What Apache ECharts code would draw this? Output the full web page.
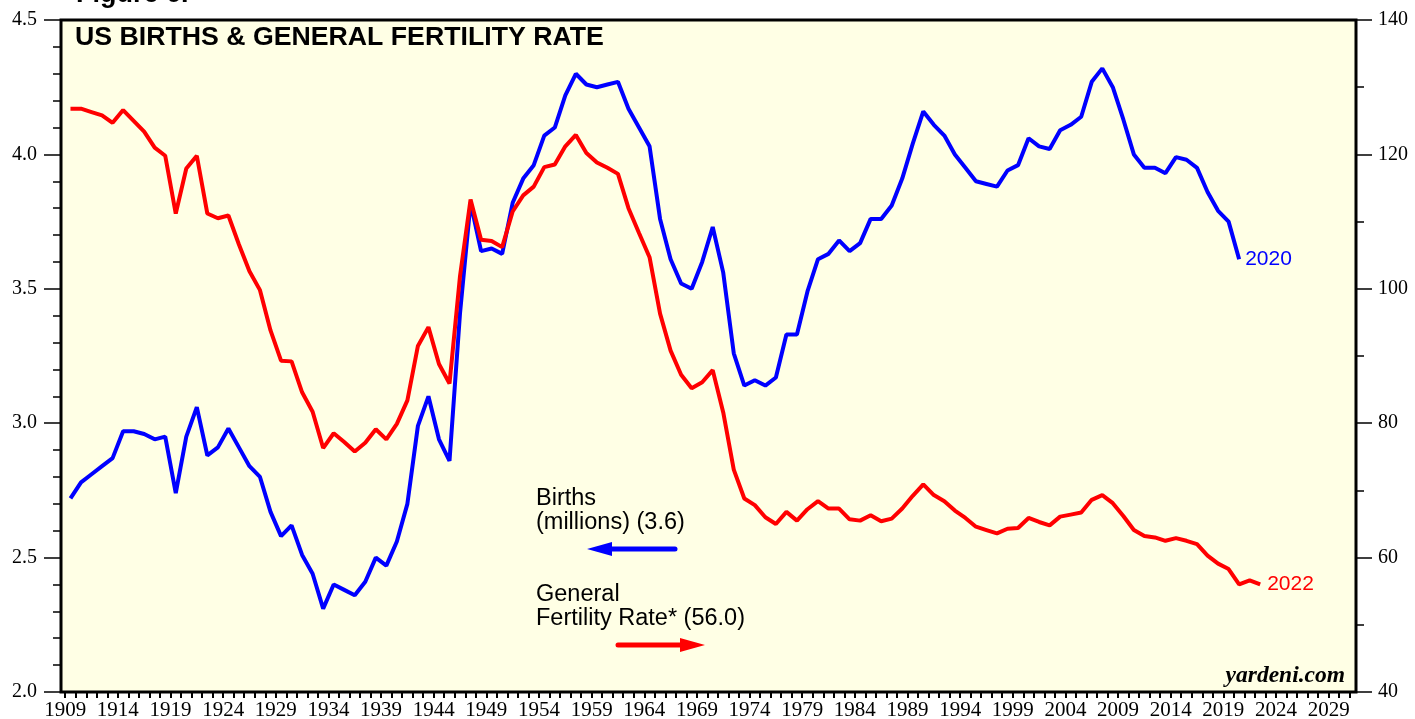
<!DOCTYPE html>
<html>
<head>
<meta charset="utf-8">
<script src="https://cdn.jsdelivr.net/npm/echarts@6/dist/echarts.min.js"></script>
<style>
  html, body { margin: 0; padding: 0; background: #fff; }
  #chart { width: 1415px; height: 719px; }
</style>
</head>
<body>
<div id="chart"></div>
<script>
// US births (millions), 1909-2020
const birthYears = []
for (let y = 1909; y <= 2020; y++) birthYears.push(y)
const births = [
  2.72, 2.78, 2.81, 2.84, 2.87, 2.97, 2.97, 2.96, 2.94, 2.95,
  2.74, 2.95, 3.06, 2.88, 2.91, 2.98, 2.91, 2.84, 2.80, 2.67,
  2.58, 2.62, 2.51, 2.44, 2.31, 2.40, 2.38, 2.36, 2.41, 2.50,
  2.47, 2.56, 2.70, 2.99, 3.10, 2.94, 2.86, 3.41, 3.82, 3.64,
  3.65, 3.63, 3.82, 3.91, 3.96, 4.07, 4.10, 4.22, 4.30, 4.26,
  4.25, 4.26, 4.27, 4.17, 4.10, 4.03, 3.76, 3.61, 3.52, 3.50,
  3.60, 3.73, 3.56, 3.26, 3.14, 3.16, 3.14, 3.17, 3.33, 3.33,
  3.49, 3.61, 3.63, 3.68, 3.64, 3.67, 3.76, 3.76, 3.81, 3.91,
  4.04, 4.16, 4.11, 4.07, 4.00, 3.95, 3.90, 3.89, 3.88, 3.94,
  3.96, 4.06, 4.03, 4.02, 4.09, 4.11, 4.14, 4.27, 4.32, 4.25,
  4.13, 4.00, 3.95, 3.95, 3.93, 3.99, 3.98, 3.95, 3.86, 3.79,
  3.75, 3.61
]

// general fertility rate (births per 1000 women 15-44), 1909-2022
const gfrYears = []
for (let y = 1909; y <= 2022; y++) gfrYears.push(y)
const gfr = [
  126.8, 126.8, 126.3, 125.8, 124.7, 126.6, 125.0, 123.4, 121.0, 119.8,
  111.2, 117.9, 119.8, 111.2, 110.5, 110.9, 106.6, 102.6, 99.8, 93.8,
  89.3, 89.2, 84.6, 81.7, 76.3, 78.5, 77.2, 75.8, 77.1, 79.1,
  77.6, 79.9, 83.4, 91.5, 94.3, 88.8, 85.9, 101.9, 113.3, 107.3,
  107.1, 106.2, 111.5, 113.9, 115.2, 118.1, 118.5, 121.2, 122.9, 120.2,
  118.8, 118.0, 117.1, 112.0, 108.3, 104.7, 96.3, 90.8, 87.2, 85.2,
  86.1, 87.9, 81.6, 73.1, 68.8, 67.8, 66.0, 65.0, 66.8, 65.5,
  67.2, 68.4, 67.3, 67.3, 65.7, 65.5, 66.3, 65.4, 65.8, 67.3,
  69.2, 70.9, 69.3, 68.4, 67.0, 65.9, 64.6, 64.1, 63.6, 64.3,
  64.4, 65.9, 65.3, 64.8, 66.1, 66.4, 66.7, 68.6, 69.3, 68.1,
  66.2, 64.1, 63.2, 63.0, 62.5, 62.9, 62.5, 62.0, 60.3, 59.1,
  58.3, 56.0, 56.6, 56.0
]

// x axis tick labels every 5 years, ticks every year
const yearLabels = []
for (let y = 1909; y <= 2029; y += 5) yearLabels.push(y)
const yearTicks = []
for (let y = 1909; y <= 2031; y++) yearTicks.push(y)

// annual values are plotted at mid-year
const toPoints = (years, vals) => years.map((y, i) => [y + 0.5, vals[i]])

const chart = echarts.init(document.getElementById('chart'))

const sans = 'Liberation Sans, Arial, sans-serif'
const serif = 'Liberation Serif, Times New Roman, serif'

const option = {
  animation: false,
  backgroundColor: '#ffffff',
  grid: {
    left: 61, right: 59, top: 20, bottom: 27,
    outerBoundsMode: 'none',
    show: true,
    backgroundColor: '#FFFFE5',
    borderColor: '#000',
    borderWidth: 3,
  },
  xAxis: {
    type: 'value',
    min: 1908.6,
    max: 2031.6,
    axisLine: { show: false },
    splitLine: { show: false },
    axisTick: {
      show: true,
      customValues: yearTicks,
      length: 6,
      lineStyle: { color: '#000', width: 2 },
    },
    axisLabel: {
      customValues: yearLabels,
      formatter: v => String(v),
      color: '#000',
      fontFamily: serif,
      fontSize: 21,
      margin: 8,
    },
  },
  yAxis: [
    {
      type: 'value',
      position: 'left',
      min: 2,
      max: 4.5,
      interval: 0.5,
      axisLine: { show: false },
      splitLine: { show: false },
      axisTick: { show: true, length: 17, lineStyle: { color: '#000', width: 1.5 } },
      minorTick: { show: true, splitNumber: 5, length: 8, lineStyle: { color: '#000', width: 1.5 } },
      axisLabel: {
        formatter: v => v.toFixed(1),
        color: '#000',
        fontFamily: serif,
        fontSize: 20,
        margin: 24,
      },
    },
    {
      type: 'value',
      position: 'right',
      min: 40,
      max: 140,
      interval: 20,
      axisLine: { show: false },
      splitLine: { show: false },
      axisTick: { show: true, length: 16, lineStyle: { color: '#000', width: 1.5 } },
      minorTick: { show: true, splitNumber: 2, length: 8, lineStyle: { color: '#000', width: 1.5 } },
      axisLabel: {
        color: '#000',
        fontFamily: serif,
        fontSize: 20,
        margin: 22,
      },
    },
  ],
  series: [
    {
      name: 'Births',
      type: 'line',
      yAxisIndex: 0,
      data: toPoints(birthYears, births),
      showSymbol: false,
      lineStyle: { color: '#0000FF', width: 4 },
      endLabel: {
        show: true,
        formatter: p => String(Math.floor(p.value[0])),
        color: '#0000FF',
        fontFamily: sans,
        fontSize: 21,
        distance: 6,
      },
    },
    {
      name: 'General Fertility Rate',
      type: 'line',
      yAxisIndex: 1,
      data: toPoints(gfrYears, gfr),
      showSymbol: false,
      lineStyle: { color: '#FF0000', width: 4 },
      endLabel: {
        show: true,
        formatter: p => String(Math.floor(p.value[0])),
        color: '#FF0000',
        fontFamily: sans,
        fontSize: 21,
        distance: 7,
      },
    },
  ],
  graphic: [
    { type: 'text', style: { text: 'Figure 6.', x: 76, y: -5, font: 'bold 27px ' + sans, fill: '#000', textVerticalAlign: 'middle' } },
    { type: 'text', style: { text: 'US BIRTHS & GENERAL FERTILITY RATE', x: 75, y: 38, font: 'bold 26.7px ' + sans, fill: '#000', textVerticalAlign: 'middle' } },
    { type: 'text', style: { text: 'yardeni.com', x: 1345, y: 676, font: 'italic bold 23.5px ' + serif, fill: '#000', textAlign: 'right', textVerticalAlign: 'middle' } },
    { type: 'text', style: { text: 'Births', x: 536, y: 499, font: '23.5px ' + sans, fill: '#000', textVerticalAlign: 'middle' } },
    { type: 'text', style: { text: '(millions) (3.6)', x: 536, y: 523, font: '23.5px ' + sans, fill: '#000', textVerticalAlign: 'middle' } },
    { type: 'text', style: { text: 'General', x: 536, y: 595, font: '23.5px ' + sans, fill: '#000', textVerticalAlign: 'middle' } },
    { type: 'text', style: { text: 'Fertility Rate* (56.0)', x: 536, y: 619, font: '23.5px ' + sans, fill: '#000', textVerticalAlign: 'middle' } },
    // blue arrow pointing left (left axis)
    { type: 'line', shape: { x1: 675, y1: 549, x2: 605, y2: 549 }, style: { stroke: '#0000FF', lineWidth: 5, lineCap: 'round' } },
    { type: 'polygon', shape: { points: [[587, 549], [612, 542], [612, 556]] }, style: { fill: '#0000FF' } },
    // red arrow pointing right (right axis)
    { type: 'line', shape: { x1: 618, y1: 645, x2: 688, y2: 645 }, style: { stroke: '#FF0000', lineWidth: 5, lineCap: 'round' } },
    { type: 'polygon', shape: { points: [[705, 645], [680, 638], [680, 652]] }, style: { fill: '#FF0000' } },
  ],
}

chart.setOption(option)
</script>
</body>
</html>
